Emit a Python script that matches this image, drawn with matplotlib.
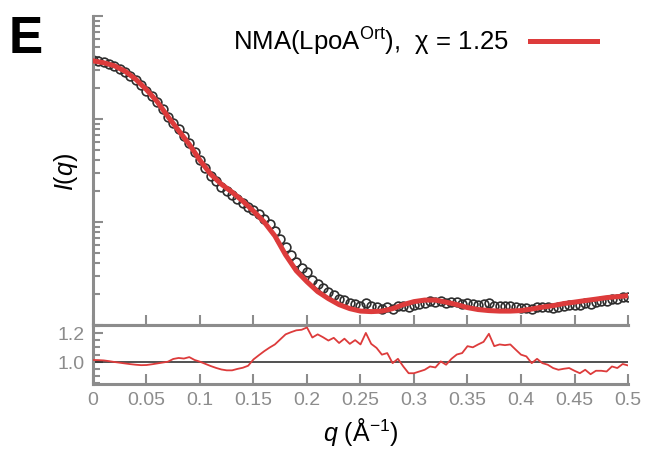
import numpy as np
import matplotlib
matplotlib.use("Agg")
import matplotlib.pyplot as plt
from matplotlib.ticker import LogLocator, MultipleLocator, NullFormatter, FixedLocator, FixedFormatter

plt.rcParams['font.family'] = ['Liberation Sans', 'DejaVu Sans']
plt.rcParams['mathtext.fontset'] = 'custom'
plt.rcParams['mathtext.rm'] = 'Liberation Sans'
plt.rcParams['mathtext.it'] = 'Liberation Sans:italic'

# --- data ---
# fitted NMA curve, log10 I(q) at q = 0, 0.01, ..., 0.5
q_fit = np.round(np.arange(0, 0.501, 0.01), 3)
logI_fit = [-0.435, -0.454, -0.483, -0.536, -0.614, -0.715, -0.831, -0.976, -1.111, -1.246,
            -1.401, -1.536, -1.633, -1.710, -1.797, -1.894, -2.000, -2.135, -2.319, -2.473,
            -2.580, -2.676, -2.744, -2.802, -2.841, -2.865, -2.870, -2.865, -2.841, -2.802,
            -2.773, -2.758, -2.758, -2.778, -2.802, -2.831, -2.850, -2.860, -2.865, -2.865,
            -2.860, -2.845, -2.826, -2.812, -2.792, -2.778, -2.763, -2.749, -2.734, -2.725,
            -2.715]

# experimental SAXS points, log10 I(q) at q = 0, 0.005, ..., 0.5
q_exp = np.round(np.arange(0, 0.5001, 0.005), 4)
logI_exp = [-0.430, -0.439, -0.450, -0.466, -0.484, -0.511, -0.541, -0.580, -0.623, -0.673,
            -0.725, -0.780, -0.836, -0.906, -0.976, -1.035, -1.100, -1.169, -1.232, -1.318,
            -1.401, -1.477, -1.549, -1.605, -1.657, -1.699, -1.737, -1.775, -1.816, -1.857,
            -1.887, -1.927, -1.969, -2.024, -2.086, -2.162, -2.243, -2.319, -2.387, -2.443,
            -2.487, -2.562, -2.600, -2.644, -2.684, -2.708, -2.749, -2.759, -2.790, -2.794,
            -2.816, -2.789, -2.819, -2.828, -2.844, -2.829, -2.845, -2.813, -2.817, -2.823,
            -2.809, -2.796, -2.783, -2.771, -2.776, -2.766, -2.787, -2.781, -2.781, -2.792,
            -2.786, -2.800, -2.801, -2.799, -2.783, -2.818, -2.816, -2.818, -2.816, -2.828,
            -2.839, -2.837, -2.849, -2.827, -2.830, -2.828, -2.832, -2.827, -2.814, -2.805,
            -2.806, -2.806, -2.788, -2.795, -2.777, -2.769, -2.765, -2.745, -2.745, -2.727,
            -2.726]

# residual I_exp / I_fit on the same q grid
ratio = [1.012, 1.011, 1.009, 1.004, 0.998, 0.993, 0.988, 0.983, 0.979, 0.976,
         0.977, 0.982, 0.988, 0.994, 1.000, 1.019, 1.026, 1.022, 1.032, 1.012,
         1.000, 0.985, 0.970, 0.957, 0.946, 0.940, 0.940, 0.950, 0.958, 0.972,
         1.016, 1.045, 1.073, 1.098, 1.120, 1.155, 1.190, 1.205, 1.218, 1.222,
         1.238, 1.168, 1.190, 1.170, 1.147, 1.166, 1.130, 1.160, 1.124, 1.150,
         1.120, 1.200, 1.124, 1.096, 1.049, 1.060, 0.990, 1.020, 0.967, 0.920,
         0.920, 0.932, 0.944, 0.967, 0.960, 1.002, 0.979, 1.020, 1.050, 1.060,
         1.108, 1.100, 1.120, 1.138, 1.194, 1.108, 1.120, 1.115, 1.120, 1.084,
         1.049, 1.037, 0.990, 1.020, 0.990, 0.979, 0.956, 0.944, 0.951, 0.956,
         0.937, 0.920, 0.944, 0.913, 0.937, 0.937, 0.932, 0.967, 0.956, 0.984,
         0.974]

xticks = [0, 0.05, 0.1, 0.15, 0.2, 0.25, 0.3, 0.35, 0.4, 0.45, 0.5]
xticklabels = ['0', '0.05', '0.1', '0.15', '0.2', '0.25', '0.3', '0.35', '0.4', '0.45', '0.5']

red = '#dd3b3b'
grey = '#8c8c8c'

fig = plt.figure(figsize=(6.52, 4.6), dpi=100)
ax = fig.add_axes([0.1426, 0.2913, 0.8206, 0.6717])
axr = fig.add_axes([0.1426, 0.163, 0.8206, 0.1283], sharex=ax)

# main panel
ax.plot(q_exp, 10 ** np.array(logI_exp), 'o', ms=6.3, mfc='none', mec='#2e2e2e', mew=1.2, zorder=2)
ax.plot(q_fit, 10 ** np.array(logI_fit), '-', color=red, lw=3.6, zorder=3,
        label=r'NMA(LpoA$^{\rm Ort}$),  χ = 1.25')
ax.set_yscale('log')
ax.set_ylim(1e-3, 1)
ax.set_xlim(0, 0.5)
ax.yaxis.set_major_locator(LogLocator(base=10, numticks=10))
ax.yaxis.set_minor_locator(LogLocator(base=10, subs=np.arange(2, 10), numticks=10))
ax.yaxis.set_major_formatter(NullFormatter())
ax.yaxis.set_minor_formatter(NullFormatter())
ax.set_ylabel('$I(q)$', fontsize=18, labelpad=6)

# residual panel
axr.plot(q_exp, ratio, '-', color=red, lw=1.3, zorder=3)
axr.axhline(1.0, color='#222222', lw=1.1, zorder=2)
axr.set_ylim(0.845, 1.255)
axr.yaxis.set_major_locator(FixedLocator([1.0, 1.2]))
axr.yaxis.set_major_formatter(FixedFormatter(['1.0', '1.2']))
axr.yaxis.set_minor_locator(MultipleLocator(0.05))
axr.set_xticks(xticks)
axr.set_xticklabels(xticklabels)
axr.set_xlabel(r'$q$ (Å$^{-1}$)', fontsize=18, labelpad=5)

for a in (ax, axr):
    for s in a.spines.values():
        s.set_color(grey)
        s.set_linewidth(2.2)
    a.spines['right'].set_visible(False)
    a.tick_params(which='both', direction='in', color=grey, width=1.5, labelcolor=grey,
                  labelsize=14)
    a.tick_params(which='major', length=7)
    a.tick_params(which='minor', length=5)
ax.spines['top'].set_visible(False)
ax.tick_params(axis='x', labelbottom=False)
axr.tick_params(axis='x', pad=5)
axr.tick_params(axis='y', pad=6)

ax.legend(loc='upper right', bbox_to_anchor=(0.97, 1.02), frameon=False, markerfirst=False,
          fontsize=18.5, handlelength=2.6, handletextpad=0.8, borderaxespad=0.2)

fig.text(0.013, 0.968, 'E', fontsize=37, fontweight='bold', va='top', ha='left')

fig.savefig('out.png', dpi=100)
